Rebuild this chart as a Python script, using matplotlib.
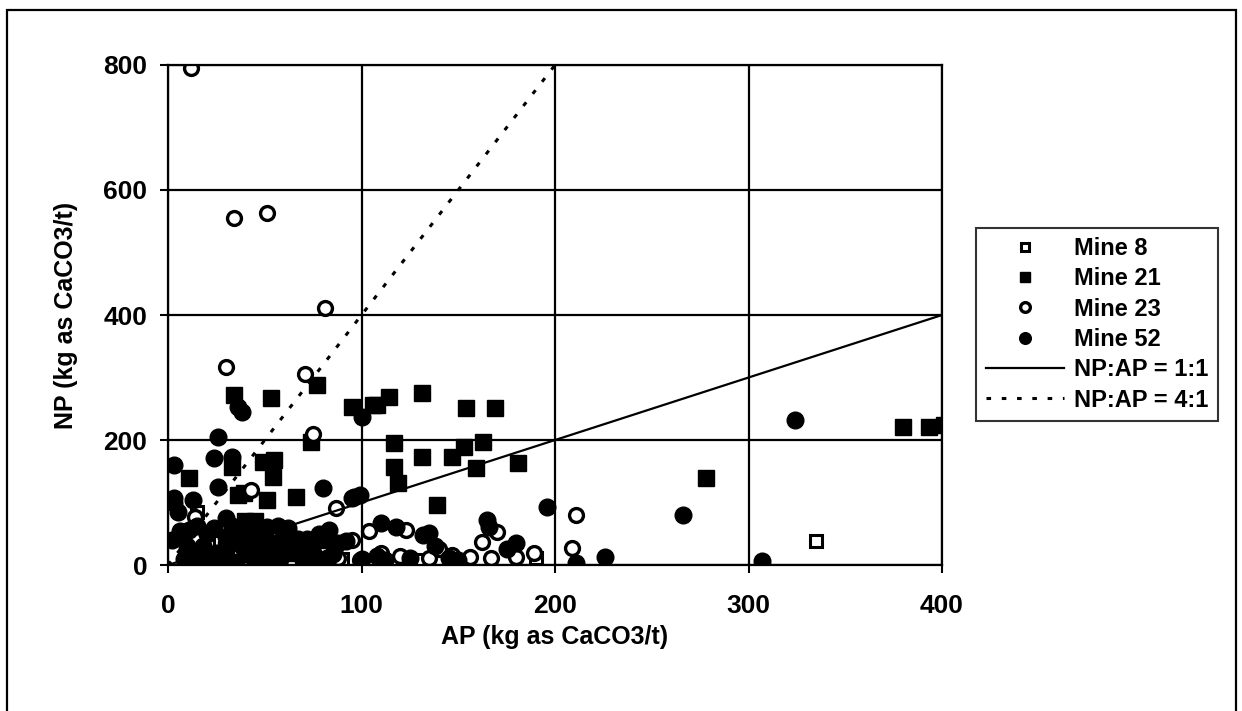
import numpy as np
import matplotlib.pyplot as plt
from matplotlib.patches import Rectangle

plt.rcParams['font.family'] = ['Liberation Sans', 'DejaVu Sans']
plt.rcParams['font.weight'] = 'bold'

# Mine 8 (open squares)
m8_ap = [27, 66, 15, 90, 130, 190, 335, 50]
m8_np = [37, 35, 85, 10, 8, 12, 38, 20]

# Mine 21 (filled squares)
m21_ap = [380, 393, 401, 278, 114, 131, 108, 154, 169, 117, 153, 163, 131, 147, 117, 159,
          181, 119, 139, 34, 53, 77, 95, 106, 74, 33, 54, 11, 49, 55, 39, 51, 66, 36,
          30, 38, 42, 48, 55, 60, 65, 70, 75, 80, 45, 57,
          35, 40, 45, 50, 55, 62, 68, 45, 53]
m21_np = [221, 221, 224, 140, 269, 275, 256, 251, 251, 195, 189, 197, 173, 173, 157, 155,
          164, 131, 96, 272, 267, 288, 253, 256, 197, 157, 141, 139, 165, 168, 115, 104, 109, 112,
          25, 45, 60, 15, 35, 55, 20, 30, 10, 40, 70, 5,
          5, 70, 40, 50, 20, 45, 25, 28, 8]

# Mine 23 (open circles)
m23_ap = [12, 34, 51, 81, 30, 71, 75, 43, 211, 209, 123, 170, 87, 104, 162, 180, 189, 167,
          156, 147, 29, 14, 99, 20, 28, 40, 55, 70, 88, 95, 110, 120, 135, 140]
m23_np = [795, 555, 563, 411, 317, 306, 210, 120, 80, 27, 56, 53, 91, 55, 37, 13, 19, 11,
          13, 16, 60, 77, 8, 15, 5, 20, 10, 8, 12, 40, 20, 15, 12, 25]

# Mine 52 (filled circles)
m52_ap = [324, 266, 226, 307, 211, 196, 100, 38, 26, 36, 24, 33, 3, 26, 3, 13, 3, 11, 2,
          80, 99, 95, 51, 165, 166, 135, 110, 118, 96, 83,
          8, 12, 18, 22, 28, 35, 40, 45, 52, 58, 63, 70, 75, 82, 88, 100, 108, 112,
          125, 132, 138, 145, 150, 175, 180, 5, 60, 72,
          6, 10, 15, 20, 25, 30, 33, 38, 42, 48, 53, 58, 62, 67, 72, 78, 85, 92,
          16, 24, 30, 44, 50, 12, 57]
m52_np = [232, 80, 13, 6, 3, 93, 237, 245, 205, 253, 171, 173, 160, 125, 107, 104, 99, 56, 40,
          123, 112, 107, 61, 72, 61, 51, 67, 61, 109, 56,
          10, 5, 30, 12, 8, 40, 18, 5, 25, 10, 45, 8, 20, 12, 35, 10, 15, 8,
          12, 48, 30, 12, 8, 25, 35, 85, 30, 42,
          55, 30, 62, 50, 20, 75, 62, 30, 45, 52, 15, 25, 60, 42, 35, 50, 18, 38,
          8, 60, 45, 35, 8, 15, 62]

ratio_x = [0, 400]
ratio_11 = [0, 400]
ratio_4x = [0, 200]
ratio_41 = [0, 800]

fig = plt.figure(figsize=(12.42, 7.11), dpi=100)
ax = fig.add_axes([0.1353, 0.2053, 0.6232, 0.7033])

ax.plot(m8_ap, m8_np, 's', ms=9, mfc='white', mec='black', mew=2.2, ls='none', label='Mine 8')
ax.plot(m21_ap, m21_np, 's', ms=11, color='black', ls='none', label='Mine 21')
ax.plot(m23_ap, m23_np, 'o', ms=10, mfc='white', mec='black', mew=2.4, ls='none', label='Mine 23')
ax.plot(m52_ap, m52_np, 'o', ms=12, color='black', ls='none', label='Mine 52')
ax.plot(ratio_x, ratio_11, '-', color='black', lw=1.6, label='NP:AP = 1:1')
ax.plot(ratio_4x, ratio_41, color='black', lw=2.2, ls=(0, (1.5, 3.5)), label='NP:AP = 4:1')

ax.set_xlim(0, 400)
ax.set_ylim(0, 800)
ax.set_xticks([0, 100, 200, 300, 400])
ax.set_yticks([0, 200, 400, 600, 800])
ax.grid(True, color='black', lw=1.6)
ax.set_axisbelow(True)
for s in ax.spines.values():
    s.set_linewidth(1.6)
ax.tick_params(direction='out', length=6, width=1.5, labelsize=19)
ax.tick_params(axis='x', pad=15)
ax.tick_params(axis='y', pad=9)
for lab in ax.get_xticklabels() + ax.get_yticklabels():
    lab.set_fontweight('bold')
ax.set_xlabel('AP (kg as CaCO3/t)', fontsize=18, fontweight='bold', labelpad=5)
ax.set_ylabel('NP (kg as CaCO3/t)', fontsize=18, fontweight='bold', labelpad=18)

h, l = ax.get_legend_handles_labels()
leg = fig.legend(h, l, loc='upper left', bbox_to_anchor=(0.786, 0.68), fontsize=17,
                 frameon=True, fancybox=False, edgecolor='black', handlelength=3.3,
                 handletextpad=0.45, labelspacing=0.31, borderpad=0.4, borderaxespad=0,
                 markerscale=0.7)
leg.get_frame().set_linewidth(1.5)
for t in leg.get_texts():
    t.set_fontweight('bold')

# outer frame around the chart
fig.patches.append(Rectangle((0.006, -0.05), 0.989, 1.036, transform=fig.transFigure,
                             fill=False, edgecolor='black', lw=1.6))

fig.savefig('out.png', dpi=100)
